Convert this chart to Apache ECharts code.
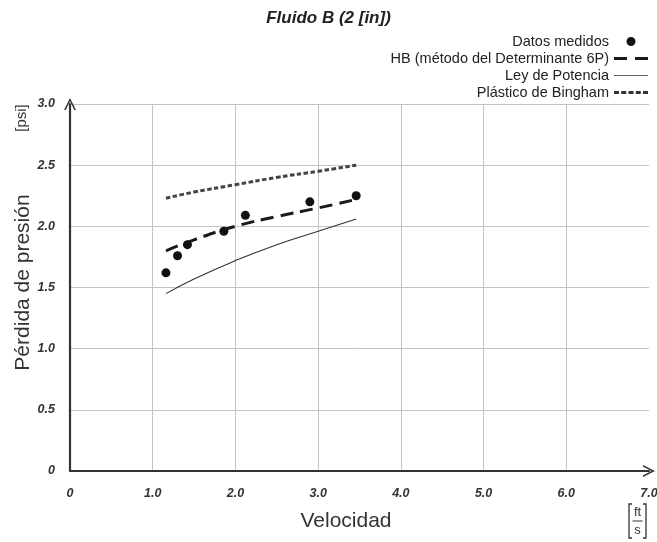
<!DOCTYPE html>
<html><head><meta charset="utf-8">
<script src="https://cdn.jsdelivr.net/npm/echarts@6/dist/echarts.min.js"></script>
<style>html,body{margin:0;padding:0;background:#fff}#c{width:657px;height:542px}</style>
</head><body><div id="c"></div>
<script>
const titleText = 'Fluido B (2 [in])';
const seriesNames = ['Datos medidos', 'HB (método del Determinante 6P)', 'Ley de Potencia', 'Plástico de Bingham'];
const xTickLabels = ['0', '1.0', '2.0', '3.0', '4.0', '5.0', '6.0', '7.0'];
const yTickLabels = ['0', '0.5', '1.0', '1.5', '2.0', '2.5', '3.0'];
const measuredX = [1.16, 1.30, 1.42, 1.86, 2.12, 2.90, 3.46];
const measuredY = [1.62, 1.76, 1.85, 1.96, 2.09, 2.20, 2.25];
const modelX = [1.16, 1.5, 2.0, 2.5, 3.0, 3.46];
const hbY = [1.80, 1.89, 2.00, 2.08, 2.15, 2.22];
const powerY = [1.45, 1.57, 1.72, 1.85, 1.96, 2.06];
const binghamY = [2.23, 2.28, 2.34, 2.40, 2.45, 2.50];

const pair = (xs, ys) => xs.map((x, i) => [x, ys[i]]);
const chevron = 'path://M0,10 L5,0 L10,10 L8.6,10 L5,2.8 L1.4,10 Z';
const FONT = '"Liberation Sans", Arial, sans-serif';
// icon bounding-box markers (34 x 10 box)
const BOX = 'M0,0 L0.01,0 L0,0.01 Z M34,10 L33.99,10 L34,9.99 Z ';
const icons = [
  'path://' + BOX + 'M12.5,5 A4.5,4.5 0 1 1 21.5,5 A4.5,4.5 0 1 1 12.5,5 Z',
  'path://' + BOX + 'M0,3.5 H13 V6.5 H0 Z M21,3.5 H34 V6.5 H21 Z',
  'path://' + BOX + 'M0,4.4 H34 V5.6 H0 Z',
  'path://' + BOX + 'M0,3.5 H5 V6.5 H0 Z M7.25,3.5 H12.25 V6.5 H7.25 Z M14.5,3.5 H19.5 V6.5 H14.5 Z M21.75,3.5 H26.75 V6.5 H21.75 Z M29,3.5 H34 V6.5 H29 Z'
];
const iconColors = ['#111', '#1a1a1a', '#666', '#333'];

const chart = echarts.init(document.getElementById('c'), null, {renderer: 'canvas'});
chart.setOption({
  animation: false,
  backgroundColor: '#fff',
  title: {text: titleText, left: 'center', top: 5,
    textStyle: {fontFamily: FONT, fontSize: 17, fontWeight: 'bold', fontStyle: 'italic', color: '#222'}},
  legend: {
    orient: 'vertical', right: 4, top: 29, align: 'right', itemGap: 2,
    itemWidth: 34, itemHeight: 10,
    textStyle: {fontFamily: FONT, fontSize: 14.5, color: '#222'},
    data: seriesNames.map((n, i) => ({name: n, icon: icons[i], itemStyle: {color: iconColors[i], opacity: 1}}))
  },
  grid: {left: 70, right: 8, top: 104, bottom: 71, containLabel: false, outerBoundsMode: 'none'},
  xAxis: {
    type: 'value', min: 0, max: 7, interval: 1,
    name: 'Velocidad', nameLocation: 'middle', nameGap: 40, nameMoveOverlap: false,
    nameTextStyle: {fontFamily: FONT, fontSize: 21, color: '#333', padding: [0, 27, 0, 0]},
    axisLine: {show: true, onZero: false, symbol: ['none', chevron], symbolSize: [12, 14], symbolOffset: [0, 0],
      lineStyle: {color: '#333', width: 2.2}},
    axisTick: {show: false},
    splitLine: {show: true, showMaxLine: false, lineStyle: {color: '#c4c4c4', width: 1}},
    axisLabel: {margin: 16, fontFamily: FONT, fontSize: 12.5, fontWeight: 'bold', fontStyle: 'italic', color: '#333',
      formatter: v => xTickLabels[Math.round(v)]}
  },
  yAxis: {
    type: 'value', min: 0, max: 3, interval: 0.5,
    name: 'Pérdida de presión', nameLocation: 'middle', nameGap: 36, nameRotate: 90, nameMoveOverlap: false,
    nameTextStyle: {fontFamily: FONT, fontSize: 21, color: '#333', padding: [0, 0, 0, 10]},
    axisLine: {show: true, onZero: false, symbol: ['none', chevron], symbolSize: [12, 14], symbolOffset: [0, 0],
      lineStyle: {color: '#333', width: 2.2}},
    axisTick: {show: false},
    splitLine: {show: true, lineStyle: {color: '#c4c4c4', width: 1}},
    axisLabel: {margin: 15, fontFamily: FONT, fontSize: 12.5, fontWeight: 'bold', fontStyle: 'italic', color: '#333',
      formatter: v => yTickLabels[Math.round(v * 2)]}
  },
  series: [
    {name: seriesNames[0], type: 'scatter', data: pair(measuredX, measuredY), symbol: 'circle', symbolSize: 9,
      itemStyle: {color: '#111', opacity: 1}, z: 5},
    {name: seriesNames[1], type: 'line', data: pair(modelX, hbY), smooth: true, symbol: 'none', showSymbol: false,
      itemStyle: {color: '#1a1a1a'}, lineStyle: {color: '#1a1a1a', width: 3, type: [13, 7]}},
    {name: seriesNames[2], type: 'line', data: pair(modelX, powerY), smooth: true, symbol: 'none', showSymbol: false,
      itemStyle: {color: '#333'}, lineStyle: {color: '#333', width: 1.1}},
    {name: seriesNames[3], type: 'line', data: pair(modelX, binghamY), smooth: true, symbol: 'none', showSymbol: false,
      itemStyle: {color: '#444'}, lineStyle: {color: '#444', width: 3, type: [4.5, 2.5]}}
  ],
  graphic: [
    {type: 'text', x: 22, y: 118, rotation: Math.PI / 2,
      style: {text: '[psi]', fontFamily: FONT, fontSize: 15, fill: '#333', align: 'center', verticalAlign: 'middle'}},
    {type: 'group', x: 629, y: 504, children: [
      {type: 'text', x: 8.5, y: 8, style: {text: 'ft', fontFamily: FONT, fontSize: 13, fill: '#333', align: 'center', verticalAlign: 'middle'}},
      {type: 'line', shape: {x1: 3.5, y1: 17, x2: 13.5, y2: 17}, style: {stroke: '#333', lineWidth: 1}},
      {type: 'text', x: 8.5, y: 26, style: {text: 's', fontFamily: FONT, fontSize: 13, fill: '#333', align: 'center', verticalAlign: 'middle'}},
      {type: 'polyline', shape: {points: [[3, 0], [0, 0], [0, 34], [3, 34]]}, style: {stroke: '#333', lineWidth: 1.3, fill: null}},
      {type: 'polyline', shape: {points: [[14, 0], [17, 0], [17, 34], [14, 34]]}, style: {stroke: '#333', lineWidth: 1.3, fill: null}}
    ]}
  ]
});
</script></body></html>
